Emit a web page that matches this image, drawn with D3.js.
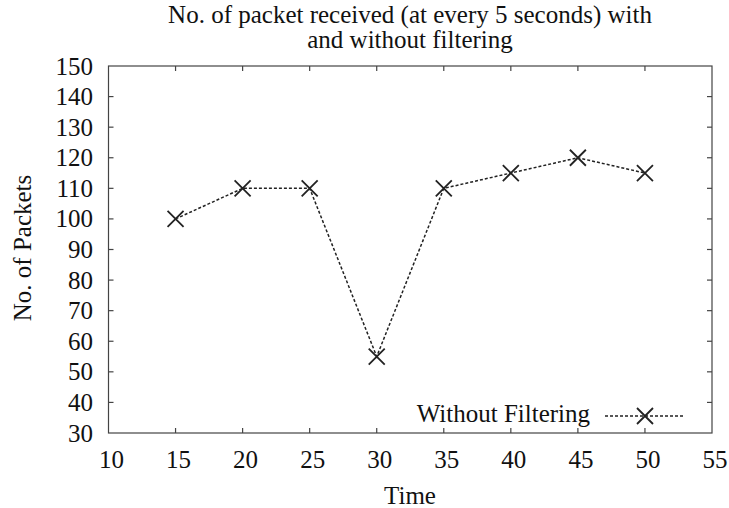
<!DOCTYPE html>
<html>
<head>
<meta charset="utf-8">
<script src="https://cdn.jsdelivr.net/npm/d3@7"></script>
<style>
  body { margin: 0; background: #fff; }
  svg { display: block; }
</style>
</head>
<body>
<svg id="chart" width="729" height="508"></svg>
<script>
// Packets received every 5 seconds, without filtering
const times = [15, 20, 25, 30, 35, 40, 45, 50];
const packets = [100, 110, 110, 55, 110, 115, 120, 115];
const xTicks = [10, 15, 20, 25, 30, 35, 40, 45, 50, 55];
const yTicks = [30, 40, 50, 60, 70, 80, 90, 100, 110, 120, 130, 140, 150];
const seriesName = "Without Filtering";
const titleLines = ["No. of packet received (at every 5 seconds) with", "and without filtering"];

const svg = d3.select("#chart");
const plotL = 108.5, plotR = 712, plotT = 66, plotB = 433;
const fs = 25;
const font = "Liberation Serif";

const x = d3.scaleLinear().domain([10, 55]).range([plotL, plotR]);
const y = d3.scaleLinear().domain([30, 150]).range([plotB, plotT]);

const ink = "#222";
const tickLen = 5;

// shared text styling, set on every text node
const styleText = sel => sel
  .attr("font-family", font)
  .attr("font-size", fs)
  .attr("fill", "#111");

// frame
svg.append("rect")
  .attr("x", plotL).attr("y", plotT)
  .attr("width", plotR - plotL).attr("height", plotB - plotT)
  .attr("fill", "none").attr("stroke", "#444").attr("stroke-width", 1.2);

// mirrored inward ticks
const g = svg.append("g").attr("stroke", "#444").attr("stroke-width", 1.2);
xTicks.slice(1, -1).forEach(t => {
  g.append("line").attr("x1", x(t)).attr("x2", x(t)).attr("y1", plotB).attr("y2", plotB - tickLen);
  g.append("line").attr("x1", x(t)).attr("x2", x(t)).attr("y1", plotT).attr("y2", plotT + tickLen);
});
yTicks.slice(1, -1).forEach(t => {
  g.append("line").attr("x1", plotL).attr("x2", plotL + tickLen).attr("y1", y(t)).attr("y2", y(t));
  g.append("line").attr("x1", plotR).attr("x2", plotR - tickLen).attr("y1", y(t)).attr("y2", y(t));
});

// tick labels
svg.append("g").selectAll("text").data(xTicks).join("text")
  .call(styleText)
  .attr("x", d => x(d) + 3).attr("y", 468)
  .attr("text-anchor", "middle")
  .text(d => d);
svg.append("g").selectAll("text").data(yTicks).join("text")
  .call(styleText)
  .attr("x", 93).attr("y", d => y(d) + 8.5)
  .attr("text-anchor", "end")
  .text(d => d);

// axis titles
svg.append("text").call(styleText)
  .attr("x", 410).attr("y", 504)
  .attr("text-anchor", "middle").text("Time");
svg.append("text").call(styleText)
  .attr("transform", "translate(31,248) rotate(-90)")
  .attr("text-anchor", "middle").text("No. of Packets");

// chart title
svg.append("g").selectAll("text").data(titleLines).join("text")
  .call(styleText)
  .attr("x", 410).attr("y", (d, i) => 23 + i * 24.5)
  .attr("text-anchor", "middle")
  .text(d => d);

// data line
const data = times.map((t, i) => ({ t, v: packets[i] }));
svg.append("path").datum(data)
  .attr("fill", "none").attr("stroke", ink).attr("stroke-width", 1.5)
  .attr("stroke-dasharray", "3,2")
  .attr("d", d3.line().x(d => x(d.t)).y(d => y(d.v)));

const cross = (sel, cx, cy, r) => {
  sel.append("path")
    .attr("d", `M${cx - r},${cy - r}L${cx + r},${cy + r}M${cx - r},${cy + r}L${cx + r},${cy - r}`)
    .attr("stroke", ink).attr("stroke-width", 1.8).attr("fill", "none");
};
const marks = svg.append("g");
data.forEach(d => cross(marks, x(d.t), y(d.v), 8));

// legend
const ly = 416;
svg.append("text").call(styleText)
  .attr("x", 590).attr("y", ly + 6)
  .attr("text-anchor", "end").text(seriesName);
svg.append("line").attr("x1", 605).attr("x2", 683).attr("y1", ly).attr("y2", ly)
  .attr("stroke", ink).attr("stroke-width", 1.5).attr("stroke-dasharray", "3,2");
cross(svg, 645, ly, 8);
</script>
</body>
</html>
